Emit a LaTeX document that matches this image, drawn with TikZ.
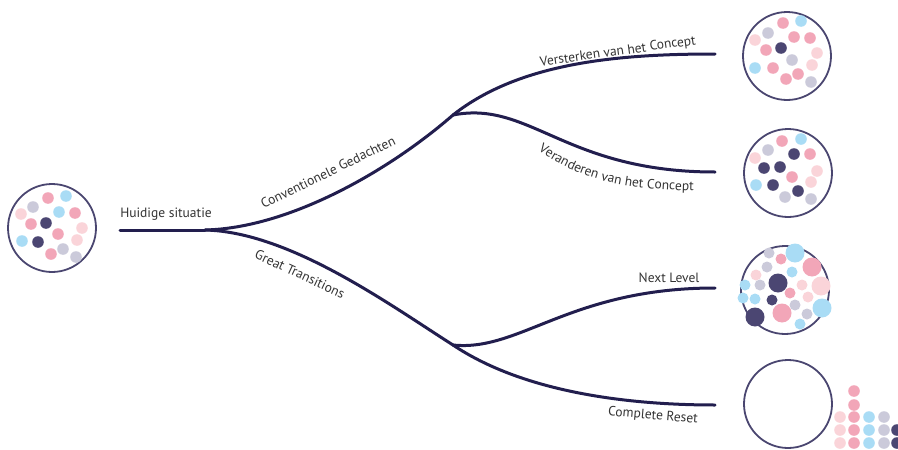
\documentclass[tikz,border=0pt]{standalone}
\usepackage{xcolor}
\usepackage{fontspec}
\setmainfont{PT Sans}
\setsansfont{PT Sans}
\usepackage{tikz}
\usetikzlibrary{positioning,decorations.text}
\definecolor{navy}{HTML}{221E4E}
\definecolor{ring}{HTML}{4A4670}
\definecolor{txt}{HTML}{333333}
\definecolor{pk}{HTML}{F2A6B8}
\definecolor{lp}{HTML}{FAD4D9}
\definecolor{lb}{HTML}{A9DCF5}
\definecolor{gy}{HTML}{CBCADA}
\definecolor{dk}{HTML}{4B4672}
\newcommand{\lblfont}{\fontsize{13.5}{15}\selectfont\color{txt}}
\tikzstyle{bubble} = [circle, draw=ring, line width=1.8pt, minimum size=88pt, inner sep=0pt]
\tikzstyle{branch} = [draw=navy, line width=3pt, line cap=round]
\tikzstyle{lbl} = [font=\lblfont, inner sep=0pt]

\begin{document}
\begin{tikzpicture}[x=1pt, y=-1pt]
    \useasboundingbox (0,0) rectangle (898,450);
    % Place nodes
    \node [bubble] (nu) at (52,228) {};
    \node [bubble] (versterk) at (787,56) {};
    \node [bubble] (verander) at (788,173) {};
    \node [bubble] (nextlvl) at (785,290) {};
    \node [bubble] (reset) at (788,404) {};
    \coordinate (start) at (120,230);
    \coordinate (split) at (205,230);
    \coordinate (upj) at (453,115);
    \coordinate (downj) at (453,345);
    \coordinate (endA) at (715,54);
    \coordinate (endB) at (715,172);
    \coordinate (endC) at (715,288);
    \coordinate (endD) at (715,405);
    % Draw edges
    \path [branch] (start) -- (split);
    \path [branch] (split) .. controls (290,228) and (390,170) .. (upj);
    \path [branch] (split) .. controls (290,232) and (390,305) .. (downj);
    \path [branch] (upj) .. controls (520,62) and (620,54) .. (endA);
    \path [branch] (upj) .. controls (530,100) and (565,172) .. (endB);
    \path [branch] (downj) .. controls (520,352) and (570,288) .. (endC);
    \path [branch] (downj) .. controls (520,390) and (620,405) .. (endD);
    % Labels
    \node [lbl] (huidig) at (166,214) {Huidige situatie};
    \node [lbl, rotate=26] (conv) at (328,172) {Conventionele Gedachten};
    \node [lbl, rotate=-25] (great) at (300,274) {Great Transitions};
    \node [lbl, rotate=8] (verst) at (618,52) {Versterken van het Concept};
    \node [lbl] (nextlbl) at (669,278) {Next Level};
    \node [lbl, rotate=-5] (resetlbl) at (653,416) {Complete Reset};
    \path [postaction={decorate}, decoration={text along path,
        text={|\lblfont|Veranderen van het Concept}, text align=center}]
        (528,143) .. controls (572,175) and (605,190) .. (706,191);
    % Dots
    \foreach \px/\py/\c in {48/198/pk, 66/196/lb, 33/207/gy, 59/212/lb, 75/213/pk,
        21/214/lp, 31/224/pk, 46/223/dk, 82/228/lp, 58/234/pk, 22/241/lb,
        38/242/dk, 77/240/lp, 51/254/pk, 63/249/gy, 76/257/gy,
        783/23/pk, 801/21/lb, 768/33/gy, 755/40/lp, 794/37/pk, 810/38/pk,
        766/50/pk, 781/48/dk, 817/53/lp, 792/60/gy, 755/68/lb, 773/68/pk,
        812/65/lp, 798/74/pk, 786/79/pk, 811/82/gy,
        782/141/pk, 801/139/lb, 768/150/gy, 794/154/dk, 810/154/pk, 755/158/lp,
        764/168/dk, 780/167/dk, 817/171/lp, 792/177/pk, 811/182/lp, 756/185/lb,
        773/185/dk, 798/191/dk, 785/197/gy, 811/199/gy}
        \fill [\c] (\px,\py) circle (5.8pt);
    \foreach \px/\py/\r/\c in {795/253/9.5/lb, 769/253/5.5/gy, 781/259/5.5/pk, 812/267/9.5/pk,
        756/275/5.5/lp, 767/267/5.5/gy, 792/272/5.5/lb, 778/283/9.5/dk, 821/286/9.5/lp,
        745/285/5.5/lb, 760/285/5.5/gy, 802/285/5.5/lp, 790/293/5.5/pk, 808/297/5.5/lp,
        743/298/5.5/lb, 755/299/5.5/lb, 772/300/5.5/dk, 795/305/5.5/gy, 822/308/9.5/lb,
        782/313/9.5/pk, 755/317/9.5/dk, 807/314/5.5/gy, 800/324/5.5/lb}
        \fill [\c] (\px,\py) circle (\r pt);
    \foreach \py in {391,405,417,430,443} \fill [pk] (854,\py) circle (5.8pt);
    \foreach \py in {417,430,443} {
        \fill [lp] (840,\py) circle (5.8pt);
        \fill [lb] (869,\py) circle (5.8pt);
        \fill [gy] (884,\py) circle (5.8pt);
    }
    \foreach \py in {430,443} \fill [dk] (897,\py) circle (5.8pt);
\end{tikzpicture}
\end{document}
